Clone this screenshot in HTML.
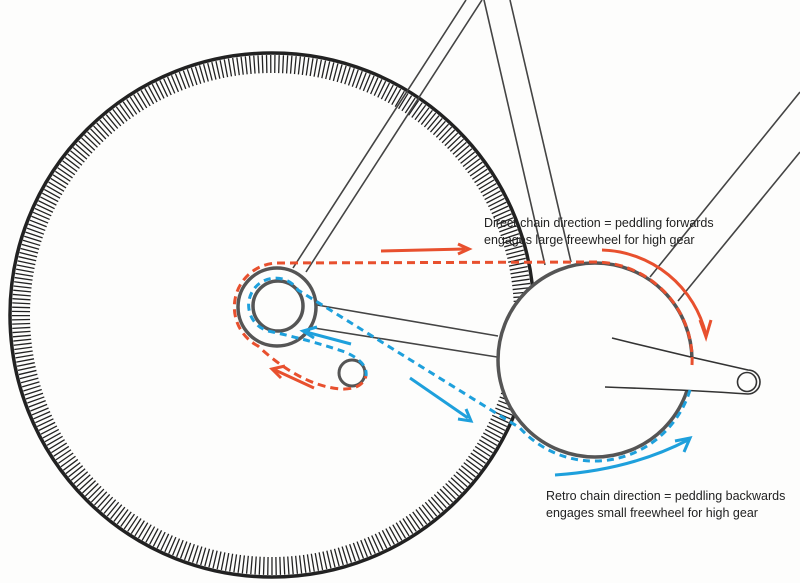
<!DOCTYPE html>
<html><head><meta charset="utf-8"><style>
html,body{margin:0;padding:0;background:#fdfdfc;}
svg{display:block;}
text{font-family:"Liberation Sans",sans-serif;font-size:12.5px;fill:#222;}
</style></head><body>
<svg width="800" height="583" viewBox="0 0 800 583" xmlns="http://www.w3.org/2000/svg">
<rect width="800" height="583" fill="#fdfdfc"/>
<circle cx="272" cy="315" r="262" fill="none" stroke="#222" stroke-width="3.5"/>
<circle cx="272" cy="315" r="251" fill="none" stroke="#222" stroke-width="18" stroke-dasharray="1.3 2.8"/>
<circle cx="272" cy="315" r="241" fill="#fdfdfc" stroke="none"/>
<g stroke="#444" stroke-width="1.6" fill="none">
<line x1="293" y1="268" x2="466" y2="0"/>
<line x1="306" y1="272" x2="482" y2="0"/>
<line x1="484" y1="0" x2="545" y2="265"/>
<line x1="510" y1="0" x2="571" y2="262"/>
<line x1="800" y1="92" x2="650" y2="277"/>
<line x1="800" y1="152" x2="678" y2="301"/>
<line x1="317" y1="305" x2="498" y2="336"/>
<line x1="314" y1="328" x2="497" y2="357"/>
</g>
<circle cx="595" cy="360" r="97" fill="#fdfdfc" stroke="#555" stroke-width="3.5"/>
<path d="M612,338 Q680,355 748,370 A12,12 0 0 1 748,394 Q690,390 605,387" fill="#fdfdfc" stroke="#333" stroke-width="1.6"/>
<circle cx="747" cy="382" r="9.5" fill="#fdfdfc" stroke="#333" stroke-width="1.6"/>
<circle cx="277" cy="307" r="39" fill="#fdfdfc" stroke="#555" stroke-width="3.5"/>
<circle cx="278" cy="306" r="25" fill="#fdfdfc" stroke="#555" stroke-width="3.5"/>
<circle cx="352" cy="373" r="13" fill="#fdfdfc" stroke="#555" stroke-width="3"/>
<g stroke="#e8502e" stroke-width="3" fill="none" stroke-dasharray="8 5">
<path d="M692,365 A98,98 0 0 0 595,262 L277,263 A44,44 0 0 0 258,346 Q300,385 340,389 Q362,390 366,376"/>
</g>
<g stroke="#1ea0dc" stroke-width="3" fill="none" stroke-dasharray="7 5">
<path d="M690,390 A100,100 0 0 1 520,428 L298,290 A27,27 0 1 0 268,331 Q310,340 345,352 Q368,362 366,376"/>
</g>
<g stroke="#e8502e" stroke-width="3" fill="none">
<line x1="381" y1="251" x2="465" y2="249"/>
<path d="M458,244 L469,249 L458,254"/>
<path d="M602,250 A110,110 0 0 1 706,335"/>
<path d="M700,320 L706,337 L711,320"/>
<line x1="314" y1="388" x2="275" y2="370"/>
<path d="M285,366 L272,369 L281,378"/>
</g>
<g stroke="#1ea0dc" stroke-width="3" fill="none">
<line x1="351" y1="344" x2="306" y2="332"/>
<path d="M317,327 L303,331 L314,338"/>
<line x1="410" y1="378" x2="468" y2="418"/>
<path d="M458,419 L471,421 L466,409"/>
<path d="M555,475 Q630,470 688,440"/>
<path d="M675,441 L690,438 L684,452"/>
</g>
<text x="484" y="227">Direct chain direction = peddling forwards</text>
<text x="484" y="244">engages large freewheel for high gear</text>
<text x="546" y="500">Retro chain direction = peddling backwards</text>
<text x="546" y="517">engages small freewheel for high gear</text>
</svg>
</body></html>
